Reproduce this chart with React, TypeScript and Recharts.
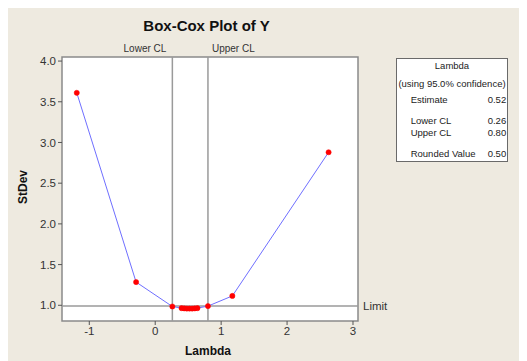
import React from "react";
import {
  LineChart,
  Line,
  XAxis,
  YAxis,
  CartesianGrid,
  ReferenceLine,
  ReferenceArea,
  Label,
} from "recharts";

const lambdaValues = [-1.19, -0.29, 0.26, 0.4, 0.44, 0.48, 0.52, 0.56, 0.6, 0.64, 0.8, 1.17, 2.63];
const stdevValues = [3.61, 1.285, 0.985, 0.965, 0.962, 0.96, 0.96, 0.96, 0.962, 0.965, 0.99, 1.115, 2.88];
const xTicks = [-1, 0, 1, 2, 3];
const yTicks = [1.0, 1.5, 2.0, 2.5, 3.0, 3.5, 4.0];
const lowerCL = 0.26;
const upperCL = 0.8;
const limitValue = 0.99;
const legendRows = [
  { label: "Estimate", value: "0.52" },
  { label: "Lower CL", value: "0.26" },
  { label: "Upper CL", value: "0.80" },
  { label: "Rounded Value", value: "0.50" },
];

const xDomain: [number, number] = [-1.414, 3.076];
const yDomain: [number, number] = [0.807, 4.05];

const data = lambdaValues.map((l, i) => ({ lambda: l, stdev: stdevValues[i] }));

const FONT = "'Liberation Sans', Arial, sans-serif";
const BG = "#eeeae0";

export default function App() {
  return (
    <div style={{ position: "relative", width: 519, height: 353, background: BG, fontFamily: FONT }}>
      <LineChart
        width={519}
        height={353}
        data={data}
        margin={{ top: 49, right: 169, bottom: 0, left: 0 }}
      >
        <CartesianGrid fill="#ffffff" horizontal={false} vertical={false} stroke="none" />
        <XAxis
          type="number"
          dataKey="lambda"
          domain={xDomain}
          allowDataOverflow
          ticks={xTicks}
          interval={0}
          height={40}
          axisLine={false}
          tickLine={{ stroke: "#555" }}
          tickSize={4}
          tick={{ fontSize: 11.5, fill: "#333", fontFamily: FONT }}
          tickFormatter={(v: number) => String(v)}
        >
          <Label
            content={(p: any) => {
              const vb = p.viewBox || {};
              return (
                <text
                  x={vb.x + vb.width / 2 - 2}
                  y={vb.y + vb.height - 6}
                  textAnchor="middle"
                  fontSize={12}
                  fontWeight="bold"
                  fill="#111"
                  fontFamily={FONT}
                >
                  Lambda
                </text>
              );
            }}
          />
        </XAxis>
        <YAxis
          type="number"
          domain={yDomain}
          allowDataOverflow
          ticks={yTicks}
          interval={0}
          width={54}
          axisLine={false}
          tickLine={{ stroke: "#555" }}
          tickSize={4}
          tick={{ fontSize: 11.5, fill: "#333", fontFamily: FONT }}
          tickFormatter={(v: number) => v.toFixed(1)}
        >
          <Label
            content={(p: any) => {
              const vb = p.viewBox || {};
              const cx = 14.5;
              const cy = vb.y + vb.height / 2 - 2;
              return (
                <text
                  x={cx}
                  y={cy}
                  transform={`rotate(-90 ${cx} ${cy})`}
                  textAnchor="middle"
                  dominantBaseline="central"
                  fontSize={12}
                  fontWeight="bold"
                  fill="#111"
                  fontFamily={FONT}
                >
                  StDev
                </text>
              );
            }}
          />
        </YAxis>
        <ReferenceArea
          x1={xDomain[0]}
          x2={xDomain[1]}
          y1={yDomain[0]}
          y2={yDomain[1]}
          fill="none"
          stroke="#8a8a8a"
          strokeWidth={1.5}
          ifOverflow="visible"
        />
        <ReferenceLine
          x={lowerCL}
          stroke="#9a9a9a"
          strokeWidth={1.5}
          label={(p: any) => {
            const vb = p.viewBox || {};
            return (
              <text x={vb.x - 6} y={vb.y - 5} textAnchor="end" fontSize={10} fill="#333" fontFamily={FONT}>
                Lower CL
              </text>
            );
          }}
        />
        <ReferenceLine
          x={upperCL}
          stroke="#9a9a9a"
          strokeWidth={1.5}
          label={(p: any) => {
            const vb = p.viewBox || {};
            return (
              <text x={vb.x + 4} y={vb.y - 5} textAnchor="start" fontSize={10} fill="#333" fontFamily={FONT}>
                Upper CL
              </text>
            );
          }}
        />
        <ReferenceLine
          y={limitValue}
          stroke="#9a9a9a"
          strokeWidth={1.5}
          label={(p: any) => {
            const vb = p.viewBox || {};
            return (
              <text
                x={vb.x + vb.width + 5}
                y={vb.y}
                dominantBaseline="central"
                textAnchor="start"
                fontSize={11.5}
                fill="#333"
                fontFamily={FONT}
              >
                Limit
              </text>
            );
          }}
        />
        <Line
          type="linear"
          dataKey="stdev"
          stroke="#6f6fff"
          strokeWidth={1}
          dot={{ r: 2.6, fill: "#ff0000", stroke: "#ff0000", strokeWidth: 0.5 }}
          activeDot={false}
          isAnimationActive={false}
        />
      </LineChart>

      <div
        style={{
          position: "absolute",
          left: 100,
          top: 9,
          width: 197,
          textAlign: "center",
          fontSize: 15,
          fontWeight: "bold",
          color: "#111",
          lineHeight: "18px",
        }}
      >
        Box-Cox Plot of Y
      </div>

      <div
        style={{
          position: "absolute",
          left: 387.7,
          top: 50.3,
          width: 112.6,
          height: 104,
          boxSizing: "border-box",
          border: "1px solid #6a6a6a",
          background: "#ffffff",
          fontSize: 9.5,
          color: "#222",
        }}
      >
        <div style={{ position: "absolute", left: 0, right: 0, top: 0.7, textAlign: "center", lineHeight: "12px" }}>
          Lambda
        </div>
        <div
          style={{ position: "absolute", left: -2, right: -2, top: 19, textAlign: "center", lineHeight: "12px", whiteSpace: "nowrap" }}
        >
          (using 95.0% confidence)
        </div>
        {legendRows.map((r, i) => {
          const tops = [35, 55.7, 68, 89];
          return (
            <React.Fragment key={r.label}>
              <div style={{ position: "absolute", left: 14, top: tops[i], lineHeight: "12px", whiteSpace: "nowrap" }}>
                {r.label}
              </div>
              <div style={{ position: "absolute", left: 91, top: tops[i], lineHeight: "12px", whiteSpace: "nowrap" }}>
                {r.value}
              </div>
            </React.Fragment>
          );
        })}
      </div>
    </div>
  );
}
